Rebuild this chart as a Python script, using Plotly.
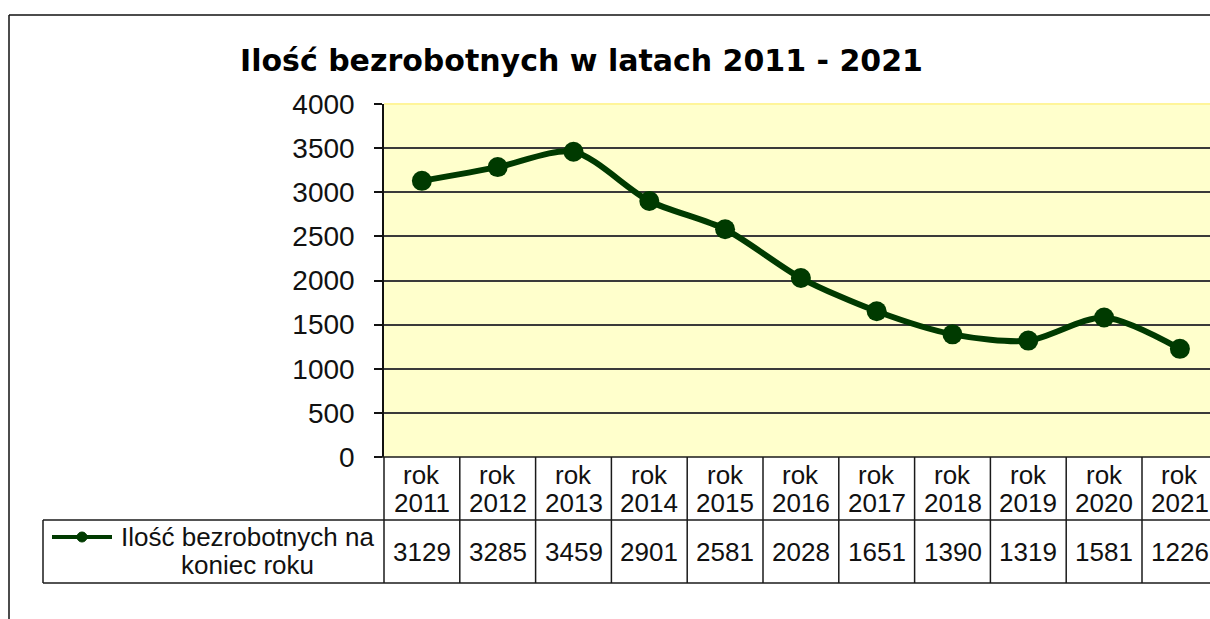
import plotly.graph_objects as go

# ---- data ----
years = ["2011", "2012", "2013", "2014", "2015", "2016", "2017", "2018", "2019", "2020", "2021"]
category_word = "rok"
categories = [category_word + " " + y for y in years]
values = [3129, 3285, 3459, 2901, 2581, 2028, 1651, 1390, 1319, 1581, 1226]
series_lines = ["Ilość bezrobotnych na", "koniec roku"]
series_name = " ".join(series_lines)
title_text = "Ilość bezrobotnych w latach 2011 - 2021"
y_ticks = [0, 500, 1000, 1500, 2000, 2500, 3000, 3500, 4000]

# ---- layout geometry (pixels) ----
W, H = 1210, 619
PL, PT, PB = 384, 104, 457          # plot left / top / bottom
PR = W                               # plot right (figure edge)
PW, PH = PR - PL, PB - PT
COLW = 75.8                          # category width in px
FONT = "Arial, Liberation Sans, sans-serif"
TITLE_FONT = "DejaVu Sans, Verdana, sans-serif"
GREEN = "#003A00"
TXT = 26

def px_x(px):
    return (px - PL) / PW

def px_y(py):
    return (PB - py) / PH

x_idx = list(range(len(categories)))
x_max = -0.5 + PW / COLW

fig = go.Figure()
fig.add_trace(go.Scatter(
    x=x_idx, y=values, mode="lines+markers",
    line=dict(color=GREEN, width=6, shape="spline", smoothing=0.8),
    marker=dict(color=GREEN, size=20),
    name=series_name, showlegend=False, cliponaxis=False,
))

shapes = []
ROW1, ROW2 = 520, 583
LINE = dict(color="#1a1a1a", width=1.5)
for py in (ROW1, ROW2):
    shapes.append(dict(type="line", xref="paper", yref="paper",
                       x0=px_x(43), x1=1.0, y0=px_y(py), y1=px_y(py), line=LINE))
shapes.append(dict(type="line", xref="paper", yref="paper",
                   x0=px_x(43), x1=px_x(43), y0=px_y(ROW1), y1=px_y(ROW2), line=LINE))
shapes.append(dict(type="line", xref="paper", yref="paper",
                   x0=0, x1=0, y0=px_y(ROW2), y1=0, line=LINE))
for i in range(len(categories)):
    shapes.append(dict(type="line", xref="x", yref="paper",
                       x0=i + 0.5, x1=i + 0.5, y0=px_y(ROW2), y1=0, line=LINE))
shapes.append(dict(type="line", xref="paper", yref="paper",
                   x0=px_x(376), x1=1.0, y0=0, y1=0, line=LINE))
shapes.append(dict(type="line", xref="paper", yref="paper",
                   x0=0, x1=1.0, y0=1, y1=1, line=dict(color="#FFF59A", width=2)))
# outer chart border
shapes.append(dict(type="line", xref="paper", yref="paper",
                   x0=px_x(9), x1=px_x(9), y0=px_y(15), y1=px_y(640),
                   line=dict(color="#111", width=1.5)))
shapes.append(dict(type="line", xref="paper", yref="paper",
                   x0=px_x(9), x1=1.0, y0=px_y(15), y1=px_y(15),
                   line=dict(color="#111", width=1.5)))
# legend key in table
shapes.append(dict(type="line", xref="paper", yref="paper",
                   x0=px_x(52), x1=px_x(112), y0=px_y(537), y1=px_y(537),
                   line=dict(color=GREEN, width=4)))
shapes.append(dict(type="circle", xref="paper", yref="paper",
                   x0=px_x(77), x1=px_x(87), y0=px_y(532), y1=px_y(542),
                   fillcolor=GREEN, line=dict(color=GREEN, width=1)))

annotations = []
annotations.append(dict(text="<b>" + title_text + "</b>", xref="paper", yref="paper",
                        x=px_x(581), y=px_y(60), showarrow=False,
                        xanchor="center", yanchor="middle",
                        font=dict(family=TITLE_FONT, size=30, color="black")))

def txt(text, xref, x, py):
    return dict(text=text, xref=xref, yref="paper", x=x, y=px_y(py),
                showarrow=False, xanchor="center", yanchor="middle",
                font=dict(family=FONT, size=TXT, color="#111"))

for i, (c, v) in enumerate(zip(categories, values)):
    word, yr = c.split(" ")
    annotations.append(txt(word, "x", i, 475))
    annotations.append(txt(yr, "x", i, 503))
    annotations.append(txt(str(v), "x", i, 552))
annotations.append(txt(series_lines[0], "paper", px_x(247), 537))
annotations.append(txt(series_lines[1], "paper", px_x(247), 565))

fig.update_layout(
    width=W, height=H,
    margin=dict(l=PL, r=W - PR, t=PT, b=H - PB, pad=0),
    paper_bgcolor="white", plot_bgcolor="#FFFFCC",
    shapes=shapes, annotations=annotations,
    xaxis=dict(range=[-0.5, x_max], showgrid=False, showticklabels=False,
               zeroline=False, showline=False, ticks=""),
    yaxis=dict(range=[0, 4000], tickvals=y_ticks, showgrid=True,
               gridcolor="#3a3a3a", gridwidth=1.5, zeroline=False,
               showline=True, linecolor="#111", linewidth=1.5,
               ticks="outside", ticklen=8, tickcolor="#111", tickwidth=1.5,
               ticklabelstandoff=14,
               tickfont=dict(family=FONT, size=28, color="#111")),
)

fig.write_html("out.html", config={"displayModeBar": False},
               post_script="document.body.style.margin='0';document.body.style.overflow='hidden';")
